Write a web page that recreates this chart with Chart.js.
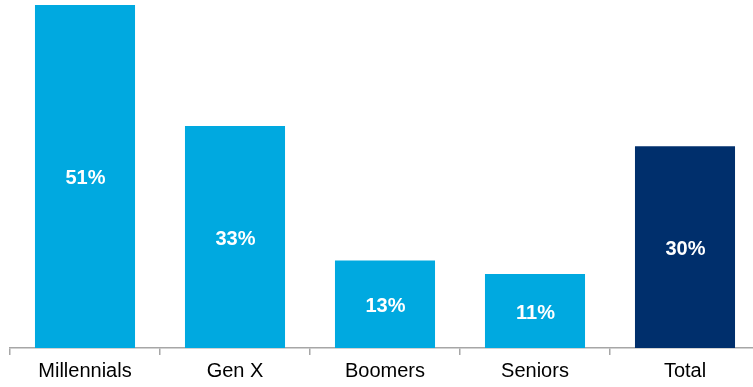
<!DOCTYPE html>
<html>
<head>
<meta charset="utf-8">
<script src="https://cdn.jsdelivr.net/npm/chart.js@4/dist/chart.umd.min.js"></script>
<style>
  html, body { margin: 0; padding: 0; background: #fff; overflow: hidden; }
  #wrap { width: 770px; height: 387px; }
</style>
</head>
<body>
<div id="wrap"><canvas id="myChart" width="770" height="387"></canvas></div>
<script>
// Share of each generation
var categories = ['Millennials', 'Gen X', 'Boomers', 'Seniors', 'Total'];
var values = [51, 33, 13, 11, 30];
var barColors = ['#00A9E0', '#00A9E0', '#00A9E0', '#00A9E0', '#002F6C'];

// white % labels in the middle of each bar
var centerLabels = {
    id: 'centerLabels',
    afterDatasetsDraw: function (chart) {
        var ctx = chart.ctx;
        var meta = chart.getDatasetMeta(0);
        ctx.save();
        ctx.fillStyle = '#ffffff';
        ctx.font = 'bold 20px "Liberation Sans", Arial, sans-serif';
        ctx.textAlign = 'center';
        ctx.textBaseline = 'middle';
        meta.data.forEach(function (bar, i) {
            var p = bar.getProps(['x', 'y', 'base'], true);
            ctx.fillText(values[i] + '%', p.x + 0.5, (p.y + p.base) / 2 + 2);
        });
        ctx.restore();
    }
};

var ctx = document.getElementById('myChart').getContext('2d');
var chart = new Chart(ctx, {
    type: 'bar',
    data: {
        labels: categories,
        datasets: [{
            data: values,
            backgroundColor: barColors,
            borderWidth: 0,
            categoryPercentage: 0.667,
            barPercentage: 1.0
        }]
    },
    options: {
        responsive: false,
        animation: false,
        layout: { padding: { left: 10, right: 10, top: 0, bottom: 0 } },
        plugins: {
            legend: { display: false },
            tooltip: { enabled: false }
        },
        scales: {
            x: {
                border: { display: true, color: '#a6a6a6', width: 1.5 },
                grid: {
                    offset: true,
                    drawOnChartArea: false,
                    drawTicks: true,
                    tickLength: 7,
                    color: '#a6a6a6',
                    lineWidth: 1.5
                },
                ticks: {
                    color: '#000000',
                    padding: 3,
                    font: { family: '"Liberation Sans", Arial, sans-serif', size: 20, lineHeight: 1.3 }
                }
            },
            y: {
                display: false,
                min: 0,
                max: 51.75
            }
        }
    },
    plugins: [centerLabels]
});
</script>
</body>
</html>
